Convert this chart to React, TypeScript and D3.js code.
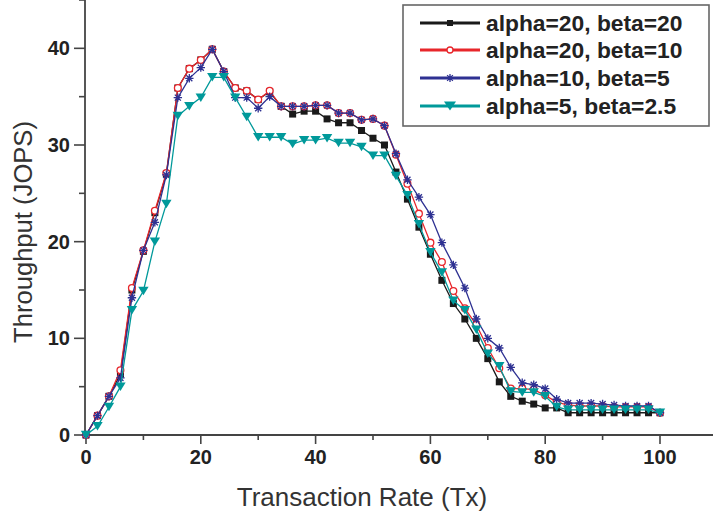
import React from "react";
import * as d3 from "d3";

const rates = [0, 2, 4, 6, 8, 10, 12, 14, 16, 18, 20, 22, 24, 26, 28, 30, 32, 34, 36, 38, 40, 42, 44, 46, 48, 50, 52, 54, 56, 58, 60, 62, 64, 66, 68, 70, 72, 74, 76, 78, 80, 82, 84, 86, 88, 90, 92, 94, 96, 98, 100];

const a20b20 = [0, 2.0, 4.0, 6.3, 15.0, 19.0, 23.0, 27.0, 35.9, 37.9, 38.8, 39.9, 37.6, 35.9, 35.6, 34.7, 35.5, 34.0, 33.2, 33.5, 33.5, 32.7, 32.3, 32.3, 31.5, 30.7, 30.0, 27.2, 24.4, 21.5, 18.7, 16.0, 13.6, 12.0, 10.0, 7.9, 5.5, 4.0, 3.5, 3.2, 2.8, 2.8, 2.3, 2.3, 2.3, 2.3, 2.3, 2.3, 2.3, 2.3, 2.3];
const a20b10 = [0, 2.0, 4.0, 6.7, 15.2, 19.1, 23.2, 27.1, 35.9, 37.9, 38.8, 39.9, 37.6, 35.9, 35.6, 34.7, 35.6, 34.0, 34.0, 34.0, 34.1, 34.1, 33.3, 33.3, 32.6, 32.7, 32.0, 29.0, 26.0, 22.9, 19.9, 17.9, 14.9, 13.1, 11.4, 9.0, 6.9, 4.8, 4.8, 4.7, 4.1, 3.4, 3.1, 3.0, 3.0, 3.0, 2.9, 2.9, 2.9, 2.9, 2.3];
const a10b5 = [0, 2.0, 4.0, 5.9, 14.2, 19.1, 22.0, 26.9, 34.9, 36.9, 38.0, 39.9, 37.6, 34.9, 34.9, 33.8, 35.0, 34.0, 34.0, 34.0, 34.1, 34.1, 33.3, 33.3, 32.6, 32.7, 32.0, 29.1, 26.4, 24.6, 22.8, 19.9, 17.6, 15.2, 12.0, 10.0, 9.0, 7.0, 5.4, 5.2, 4.8, 3.7, 3.3, 3.3, 3.3, 3.2, 3.1, 3.0, 3.0, 3.0, 2.3];
const a5b25 = [0, 0.9, 2.9, 5.0, 12.9, 14.9, 20.0, 23.9, 33.0, 34.0, 34.9, 37.0, 37.0, 34.9, 32.9, 30.8, 30.8, 30.8, 30.1, 30.5, 30.5, 30.7, 30.2, 30.2, 29.8, 28.9, 28.9, 26.8, 24.8, 21.8, 18.9, 16.8, 13.9, 12.9, 10.9, 8.4, 7.1, 4.5, 4.4, 4.4, 4.0, 2.9, 2.6, 2.6, 2.6, 2.6, 2.6, 2.6, 2.6, 2.6, 2.3];

const seriesNames = ["alpha=20, beta=20", "alpha=20, beta=10", "alpha=10, beta=5", "alpha=5, beta=2.5"];
const seriesValues = [a20b20, a20b10, a10b5, a5b25];
const seriesColors = ["#1a1a1a", "#e8262b", "#2e3192", "#00999a"];
const seriesMarkers = ["square", "circle", "star", "triangle"];

const xMajorTicks = [0, 20, 40, 60, 80, 100];
const xMinorTicks = [10, 30, 50, 70, 90];
const yMajorTicks = [0, 10, 20, 30, 40];
const yMinorTicks = [5, 15, 25, 35, 45];

const W = 713;
const H = 516;
const FONT = "'Liberation Sans', Arial, Helvetica, sans-serif";

const x = d3.scaleLinear().domain([0, 100]).range([86, 660]);
const y = d3.scaleLinear().domain([0, 45]).range([435, 0]);

function Marker({ kind, color, cx, cy, big }: { kind: string; color: string; cx: number; cy: number; big?: boolean }) {
  if (kind === "square") {
    const s = big ? 6 : 7;
    return <rect x={cx - s / 2} y={cy - s / 2} width={s} height={s} fill={color} />;
  }
  if (kind === "circle") {
    const r = big ? 3 : 3.4;
    return <circle cx={cx} cy={cy} r={r} fill="#fff" stroke={color} strokeWidth={1.3} />;
  }
  if (kind === "star") {
    const r = big ? 4 : 4.2;
    const d = r * 0.72;
    const p = `M${cx - r},${cy}L${cx + r},${cy}M${cx},${cy - r}L${cx},${cy + r}M${cx - d},${cy - d}L${cx + d},${cy + d}M${cx - d},${cy + d}L${cx + d},${cy - d}`;
    return <path d={p} stroke={color} strokeWidth={1.3} fill="none" />;
  }
  const w = big ? 6 : 5.2;
  const h = big ? 9 : 8.5;
  const p = `M${cx - w},${cy - h / 2}L${cx + w},${cy - h / 2}L${cx},${cy + h / 2}Z`;
  return <path d={p} fill={color} />;
}

export default function App() {
  const line = d3
    .line<number>()
    .x((_, i) => x(rates[i]))
    .y((v) => y(v));

  const axisColor = "#444";
  const legendRows = [23, 50, 78, 106];

  return (
    <svg width={W} height={H} style={{ position: "absolute", left: 0, top: 0, background: "#fff" }} fontFamily={FONT}>
      <rect x={0} y={0} width={W} height={H} fill="#fff" />
      {/* axes */}
      <line x1={85} x2={85} y1={0} y2={435.5} stroke={axisColor} strokeWidth={1.8} />
      <line x1={84} x2={W} y1={435} y2={435} stroke={axisColor} strokeWidth={1.8} />
      {yMajorTicks.map((t) => (
        <g key={"ym" + t}>
          <line x1={74} x2={85} y1={y(t)} y2={y(t)} stroke={axisColor} strokeWidth={1.6} />
          <text x={70} y={y(t) + 7} textAnchor="end" fontSize={20} fontWeight="bold" fill="#222">
            {t}
          </text>
        </g>
      ))}
      {yMinorTicks.map((t) => (
        <line key={"yn" + t} x1={79} x2={85} y1={y(t)} y2={y(t)} stroke={axisColor} strokeWidth={1.6} />
      ))}
      {xMajorTicks.map((t) => (
        <g key={"xm" + t}>
          <line x1={x(t)} x2={x(t)} y1={435} y2={444} stroke={axisColor} strokeWidth={1.6} />
          <text x={x(t)} y={464} textAnchor="middle" fontSize={20} fontWeight="bold" fill="#222">
            {t}
          </text>
        </g>
      ))}
      {xMinorTicks.map((t) => (
        <line key={"xn" + t} x1={x(t)} x2={x(t)} y1={435} y2={440} stroke={axisColor} strokeWidth={1.6} />
      ))}
      <text x={362} y={506} textAnchor="middle" fontSize={26} fill="#333">
        Transaction Rate (Tx)
      </text>
      <text transform="translate(32,232) rotate(-90)" textAnchor="middle" fontSize={25.6} fill="#333">
        Throughput (JOPS)
      </text>

      {/* series */}
      {seriesValues.map((vals, si) => (
        <g key={"s" + si}>
          <path d={line(vals) || ""} fill="none" stroke={seriesColors[si]} strokeWidth={1.3} />
          {vals.map((v, i) => (
            <Marker key={i} kind={seriesMarkers[si]} color={seriesColors[si]} cx={x(rates[i])} cy={y(v)} />
          ))}
        </g>
      ))}

      {/* legend */}
      <rect x={403} y={5} width={306} height={121} fill="#fff" stroke="#666" strokeWidth={1.6} />
      {seriesNames.map((name, si) => (
        <g key={"l" + si}>
          <line x1={420} x2={480} y1={legendRows[si]} y2={legendRows[si]} stroke={seriesColors[si]} strokeWidth={3} />
          <Marker kind={seriesMarkers[si]} color={seriesColors[si]} cx={450} cy={legendRows[si]} big />
          <text x={486} y={legendRows[si] + 8} fontSize={22.8} fontWeight="bold" fill="#222">
            {name}
          </text>
        </g>
      ))}
    </svg>
  );
}
